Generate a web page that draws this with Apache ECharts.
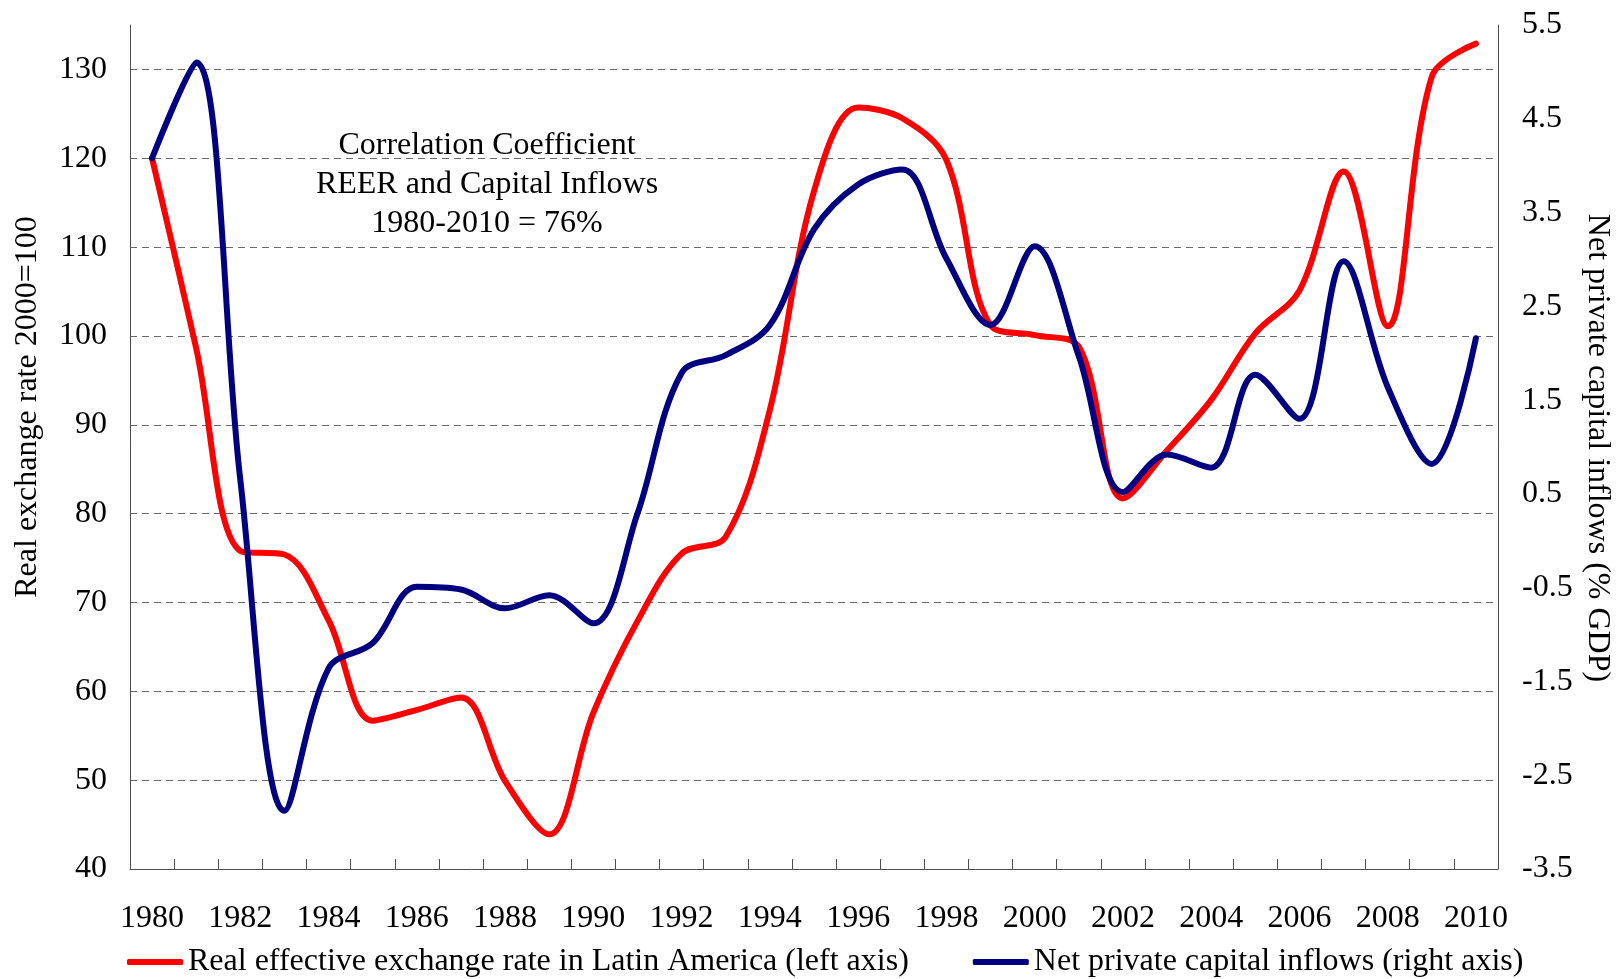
<!DOCTYPE html>
<html>
<head>
<meta charset="utf-8">
<title>REER and capital inflows, Latin America</title>
<script src="https://cdn.jsdelivr.net/npm/echarts/dist/echarts.min.js"></script>
<style>
  html, body { margin: 0; padding: 0; background: #fff; }
  #chart { width: 1619px; height: 979px; }
</style>
</head>
<body>
<div id="chart"></div>
<script>
  // data
  const years = ['1980','1981','1982','1983','1984','1985','1986','1987','1988','1989','1990',
    '1991','1992','1993','1994','1995','1996','1997','1998','1999','2000',
    '2001','2002','2003','2004','2005','2006','2007','2008','2009','2010'];
  const reer = [120, 98.6, 75.8, 75.4, 68.0, 56.7, 57.9, 59.3, 49.9, 43.9, 57.6,
    67.9, 75.5, 77.4, 91.7, 116.3, 125.7, 124.5, 119.8, 101.2, 100.1,
    98.8, 81.7, 87.1, 92.8, 100.3, 105.1, 118.5, 101.1, 129.2, 132.9];
  const inflows = [4.08, 5.1, 0.65, -2.88, -1.36, -1.09, -0.49, -0.52, -0.72, -0.58, -0.88,
    0.29, 1.79, 1.98, 2.3, 3.32, 3.8, 3.96, 3.01, 2.3, 3.14,
    1.97, 0.52, 0.92, 0.78, 1.77, 1.3, 2.98, 1.64, 0.82, 2.16];
  const rightTicks = [-3.5, -2.5, -1.5, -0.5, 0.5, 1.5, 2.5, 3.5, 4.5, 5.5];

  const reerName = 'Real effective exchange rate in Latin America (left axis)';
  const flowName = 'Net private capital inflows (right axis)';
  const serif = "'Liberation Serif', 'Times New Roman', serif";
  const axisColor = '#4d4d4d';

  let myChart = echarts.init(document.getElementById('chart'));
  myChart.setOption({
    animation: false,
    backgroundColor: '#fff',
    textStyle: { fontFamily: serif, color: '#000' },
    grid: { left: 130, right: 121, top: 25, bottom: 110, outerBoundsMode: 'none' },
    legend: {
      left: 127,
      top: 946,
      padding: 0,
      icon: 'roundRect',
      itemWidth: 56,
      itemHeight: 6,
      itemGap: 64,
      textStyle: { fontFamily: serif, fontSize: 32, color: '#000' },
      data: [reerName, flowName]
    },
    xAxis: {
      type: 'category',
      data: years,
      boundaryGap: true,
      axisLine: { onZero: false, lineStyle: { color: axisColor, width: 1 } },
      axisTick: { show: true, inside: true, length: 10, interval: 0, lineStyle: { color: axisColor } },
      axisLabel: { interval: 1, margin: 34, fontFamily: serif, fontSize: 32, color: '#000' },
      splitLine: { show: false }
    },
    yAxis: [
      {
        type: 'value',
        min: 40,
        max: 135,
        interval: 10,
        axisLine: { show: true, lineStyle: { color: axisColor, width: 1 } },
        axisTick: { show: false },
        axisLabel: { showMaxLabel: false, margin: 23, fontFamily: serif, fontSize: 32, color: '#000' },
        splitLine: {
          show: true,
          showMinLine: false,
          showMaxLine: false,
          lineStyle: { color: '#6a6a6a', width: 1, type: [7, 5] }
        }
      },
      {
        type: 'value',
        min: -3.5,
        max: 5.5,
        position: 'right',
        axisLine: { show: true, onZero: false, lineStyle: { color: axisColor, width: 1 } },
        axisTick: { show: false },
        axisLabel: { customValues: rightTicks, margin: 24, fontFamily: serif, fontSize: 32, color: '#000' },
        splitLine: { show: false }
      }
    ],
    series: [
      {
        name: reerName,
        type: 'line',
        yAxisIndex: 0,
        data: reer,
        smooth: 0.35,
        symbol: 'none',
        showSymbol: false,
        lineStyle: { color: '#ff0000', width: 6, cap: 'round', join: 'round' },
        itemStyle: { color: '#ff0000' }
      },
      {
        name: flowName,
        type: 'line',
        yAxisIndex: 1,
        data: inflows,
        smooth: 0.35,
        symbol: 'none',
        showSymbol: false,
        lineStyle: { color: '#000080', width: 6, cap: 'round', join: 'round' },
        itemStyle: { color: '#000080' }
      }
    ],
    graphic: [
      {
        type: 'text',
        x: 28,
        y: 407,
        rotation: Math.PI / 2,
        style: {
          text: 'Real exchange rate 2000=100',
          font: '32px ' + serif,
          fill: '#000',
          textAlign: 'center', align: 'center',
          textVerticalAlign: 'middle', verticalAlign: 'middle'
        }
      },
      {
        type: 'text',
        x: 1597,
        y: 448,
        rotation: -Math.PI / 2,
        style: {
          text: 'Net private capital inflows (% GDP)',
          font: '32px ' + serif,
          fill: '#000',
          textAlign: 'center', align: 'center',
          textVerticalAlign: 'middle', verticalAlign: 'middle'
        }
      },
      {
        type: 'group',
        z: 10,
        children: [
          {
            type: 'rect',
            shape: { x: 261, y: 104, width: 453, height: 165 },
            style: { fill: '#fff' }
          },
          {
            type: 'text',
            x: 487,
            y: 185,
            style: {
              text: 'Correlation Coefficient\nREER and Capital Inflows\n1980-2010 = 76%',
              font: '32px ' + serif,
              lineHeight: 39,
              fill: '#000',
              textAlign: 'center', align: 'center',
              textVerticalAlign: 'middle', verticalAlign: 'middle'
            }
          }
        ]
      }
    ]
  });
</script>
</body>
</html>
